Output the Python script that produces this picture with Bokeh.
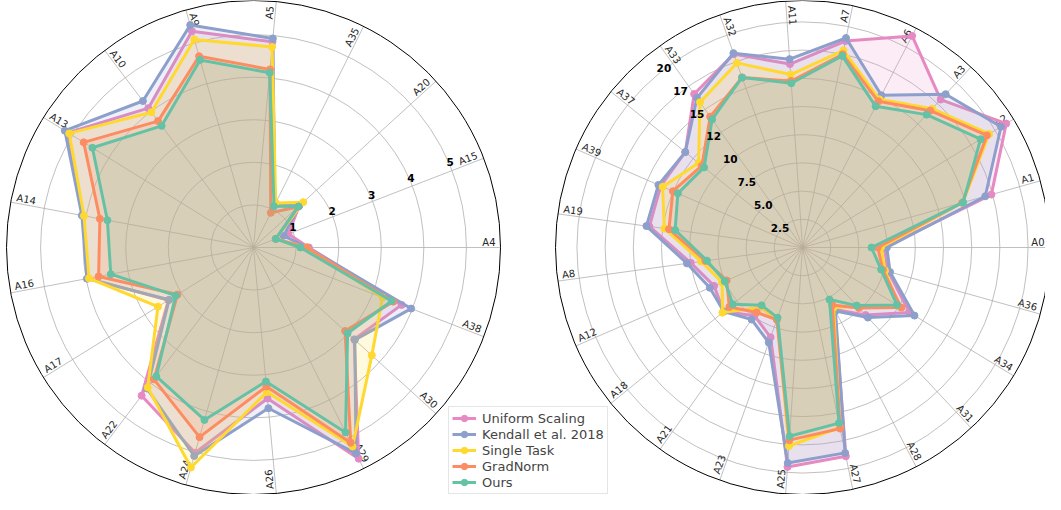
import numpy as np
from bokeh.plotting import figure
from bokeh.models import Range1d, Legend, LegendItem
from bokeh.core.properties import value
from bokeh.embed import file_html
from bokeh.resources import INLINE

# ---------------- data ----------------
left_labels = ["A4", "A15", "A20", "A35", "A5", "A9", "A10", "A13", "A14", "A16",
               "A17", "A22", "A24", "A26", "A29", "A30", "A38"]
right_labels = ["A0", "A1", "A2", "A3", "A6", "A7", "A11", "A32", "A33", "A37", "A39",
                "A19", "A8", "A12", "A18", "A21", "A23", "A25", "A27", "A28", "A31",
                "A34", "A36"]

series_names = ["Uniform Scaling", "Kendall et al. 2018", "Single Task", "GradNorm", "Ours"]
series_colors = ["#e78ac3", "#8da0cb", "#ffd92f", "#fc8d62", "#66c2a5"]

left_uniform = [1.30, 0.88, 1.45, 1.12, 4.85, 5.28, 4.10, 5.12, 4.08, 3.95, 2.35, 4.36, 5.01, 3.56, 5.54, 3.20, 3.73]
left_kendall = [1.27, 0.76, 1.45, 1.12, 4.93, 5.43, 4.31, 5.21, 4.10, 3.98, 2.33, 4.15, 5.09, 3.79, 5.40, 3.22, 3.97]
left_single = [1.25, 0.56, 1.58, 1.17, 4.73, 5.08, 3.98, 5.09, 4.05, 3.93, 2.64, 4.12, 5.37, 3.41, 5.22, 3.76, 3.25]
left_gradnorm = [1.25, 0.56, 1.42, 0.91, 4.20, 4.67, 3.72, 4.69, 3.67, 3.70, 2.10, 3.88, 4.63, 3.28, 5.12, 2.91, 3.52]
left_ours = [1.10, 0.56, 1.43, 1.08, 4.12, 4.58, 3.58, 4.45, 3.49, 3.41, 2.15, 3.79, 4.21, 3.16, 4.85, 2.99, 3.48]

right_uniform = [7.25, 17.39, 21.14, 17.95, 21.13, 18.70, 16.30, 18.20, 16.66, 13.40, 13.70, 13.70,
                 10.00, 8.55, 9.00, 7.40, 8.45, 19.50, 18.91, 6.20, 8.20, 11.10, 7.90]
right_kendall = [7.48, 16.83, 20.60, 18.60, 15.20, 18.97, 16.74, 18.29, 16.23, 13.40, 13.93, 13.97,
                 10.34, 8.96, 9.00, 7.82, 8.94, 19.15, 18.60, 6.35, 8.50, 11.62, 8.06]
right_single = [6.96, 14.77, 19.37, 16.84, 14.80, 17.85, 15.37, 17.37, 15.76, 11.88, 13.52, 12.37,
                9.07, 7.77, 9.15, 6.50, 6.70, 17.64, 16.30, 6.00, 7.20, 10.00, 7.60]
right_gradnorm = [6.67, 14.70, 19.13, 16.60, 14.60, 17.50, 14.80, 16.00, 14.20, 11.50, 12.53, 11.95,
                  8.70, 7.33, 8.36, 7.05, 6.80, 17.12, 16.40, 5.75, 7.33, 10.25, 7.40]
right_ours = [6.12, 14.80, 18.48, 16.12, 14.10, 17.35, 14.60, 16.00, 13.90, 11.25, 12.05, 11.40,
              8.55, 7.52, 7.96, 6.28, 6.60, 16.77, 15.90, 5.20, 7.05, 9.80, 7.24]

left_ticks = [1, 2, 3, 4, 5]
left_tick_labels = ["1", "2", "3", "4", "5"]
left_rmax = 5.8
right_ticks = [2.5, 5.0, 7.5, 10.0, 12.5, 15.0, 17.5, 20.0]
right_tick_labels = ["2.5", "5.0", "7.5", "10", "12", "15", "17", "20"]
right_rmax = 21.9

# ---------------- layout / style ----------------
W, H = 1045, 494
R = 247.0
FONT = "DejaVu Sans"
GRID = "#b0b0b0"
FILL_ALPHA = 0.16

p = figure(width=W, height=H, x_range=Range1d(8, 8 + W), y_range=Range1d(8, 8 + H),
           output_backend="svg", toolbar_location=None, min_border=0)
p.axis.visible = False
p.grid.visible = False
p.outline_line_color = None
p.background_fill_color = "white"
p.border_fill_color = "white"


def radar(cx, cy, labels, series, ticks, tick_labels, rmax, tick_ang, tick_dx, tick_dy):
    n = len(labels)
    theta = 2 * np.pi * np.arange(n) / n
    scale = R / rmax
    # rings
    p.circle(x=[cx] * len(ticks), y=[cy] * len(ticks), radius=[t * scale for t in ticks],
             fill_color=None, line_color=GRID, line_width=0.8)
    # spokes
    p.segment(x0=[cx] * n, y0=[cy] * n, x1=cx + R * np.cos(theta), y1=cy + R * np.sin(theta),
              line_color=GRID, line_width=0.8)
    # outer frame
    p.circle(x=[cx], y=[cy], radius=[R], fill_color=None, line_color="black", line_width=1)
    # category labels
    deg = np.degrees(theta)
    left_side = (deg > 90) & (deg < 278)
    lr = R - 5
    for side, align in ((~left_side, "right"), (left_side, "left")):
        idx = np.where(side)[0]
        ang = np.where(left_side[idx], theta[idx] - np.pi, theta[idx])
        p.text(x=cx + lr * np.cos(theta[idx]), y=cy + lr * np.sin(theta[idx]),
               text=[labels[i] for i in idx], angle=ang,
               text_align=align, text_baseline="bottom",
               text_font=value(FONT), text_font_size="10px", text_color="#262626")
    # series
    renders = []
    for vals, col in zip(series, series_colors):
        v = np.array(vals)
        xs = cx + v * scale * np.cos(theta)
        ys = cy + v * scale * np.sin(theta)
        xc = np.append(xs, xs[0])
        yc = np.append(ys, ys[0])
        ln = p.line(xc, yc, line_color=col, line_width=3, line_join="round")
        sc = p.scatter(xs, ys, size=7, fill_color=col, line_color=col)
        p.patch(xs, ys, fill_color=col, fill_alpha=FILL_ALPHA, line_color=None)
        renders.append([ln, sc])
    # radial tick labels
    ta = np.radians(tick_ang)
    tr = np.array(ticks) * scale
    p.text(x=cx + tr * np.cos(ta) + tick_dx, y=cy + tr * np.sin(ta) + tick_dy,
           text=tick_labels, text_align="center", text_baseline="middle",
           text_font=value(FONT), text_font_size="10.5px", text_font_style="bold",
           text_color="black")
    return renders


left_series = [left_uniform, left_kendall, left_single, left_gradnorm, left_ours]
right_series = [right_uniform, right_kendall, right_single, right_gradnorm, right_ours]

rl = radar(261, 255, left_labels, left_series, left_ticks, left_tick_labels, left_rmax, 22.5, 0, 4)
rr = radar(810, 255, right_labels, right_series, right_ticks, right_tick_labels, right_rmax, 126, -6, -3)

legend = Legend(items=[LegendItem(label=nm, renderers=r) for nm, r in zip(series_names, rl)],
                location=(448, 0))
legend.label_text_font = FONT
legend.label_text_font_size = "13px"
legend.label_height = 16
legend.glyph_height = 16
legend.glyph_width = 24
legend.label_standoff = 6
legend.spacing = 0
legend.padding = 3
legend.margin = 0
legend.border_line_color = "#cccccc"
legend.border_line_width = 1
legend.background_fill_alpha = 0.85
p.add_layout(legend)

open("out.html", "w").write(file_html(p, INLINE))
